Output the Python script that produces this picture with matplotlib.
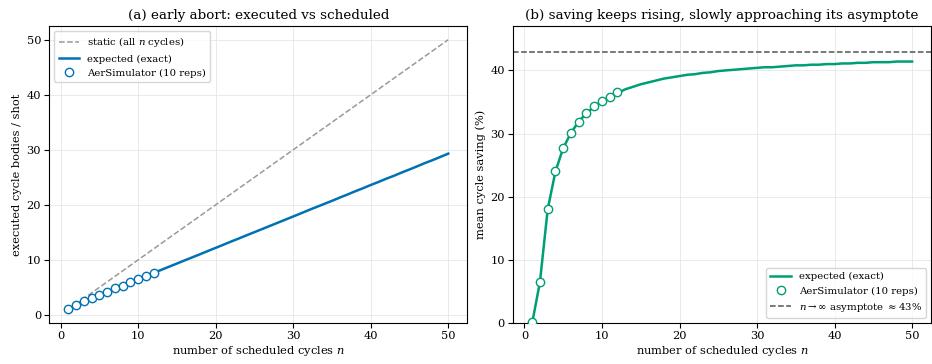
import matplotlib
matplotlib.use("Agg")
import matplotlib.pyplot as plt

plt.rcParams["font.family"] = "DejaVu Serif"
plt.rcParams["mathtext.fontset"] = "dejavuserif"

# scheduled cycles n = 1..50
n_all = list(range(1, 51))

# expected executed cycle bodies per shot (exact)
exec_expected = [1.00, 1.87, 2.46, 3.04, 3.62, 4.19, 4.77, 5.34, 5.91, 6.49,
                 7.06, 7.63, 8.19, 8.76, 9.33, 9.90, 10.47, 11.03, 11.61, 12.18,
                 12.75, 13.33, 13.89, 14.47, 15.03, 15.60, 16.17, 16.74, 17.31, 17.88,
                 18.45, 19.04, 19.60, 20.16, 20.72, 21.31, 21.87, 22.46, 23.01, 23.60,
                 24.15, 24.74, 25.28, 25.87, 26.42, 27.00, 27.59, 28.13, 28.71, 29.30]

# expected mean cycle saving (%)
saving_expected = [0.0, 6.5, 18.0, 24.0, 27.7, 30.1, 31.9, 33.2, 34.3, 35.1,
                   35.8, 36.4, 37.0, 37.4, 37.8, 38.1, 38.4, 38.7, 38.9, 39.1,
                   39.3, 39.4, 39.6, 39.7, 39.9, 40.0, 40.1, 40.2, 40.3, 40.4,
                   40.5, 40.5, 40.6, 40.7, 40.8, 40.8, 40.9, 40.9, 41.0, 41.0,
                   41.1, 41.1, 41.2, 41.2, 41.3, 41.3, 41.3, 41.4, 41.4, 41.4]

# AerSimulator runs (10 reps), n = 1..12
n_sim = list(range(1, 13))
exec_sim = [1.0, 1.85, 2.45, 3.05, 3.6, 4.2, 4.8, 5.3, 5.9, 6.5, 7.05, 7.6]
saving_sim = [0.2, 6.5, 18.0, 24.0, 27.7, 30.1, 31.9, 33.3, 34.3, 35.2, 35.8, 36.5]

asymptote = 42.9

BLUE = "#0072B2"
GREEN = "#009E73"

fig, (ax1, ax2) = plt.subplots(1, 2, figsize=(9.32, 3.64), dpi=100)

# (a) executed vs scheduled
ax1.plot(n_all, n_all, "--", color="#999999", lw=1.1, label="static (all $n$ cycles)", zorder=2)
ax1.plot(n_all, exec_expected, color=BLUE, lw=1.8, label="expected (exact)", zorder=3)
ax1.plot(n_sim, exec_sim, "o", ls="none", mfc="white", mec=BLUE, mew=1.0, ms=6,
         label="AerSimulator (10 reps)", zorder=4)
ax1.set_xlabel("number of scheduled cycles $n$", fontsize=8.2, labelpad=2)
ax1.set_ylabel("executed cycle bodies / shot", fontsize=8.2, labelpad=3)
ax1.set_title("(a) early abort: executed vs scheduled", fontsize=9.7, pad=5)
ax1.legend(loc="upper left", fontsize=7.3)
ax1.grid(True, color="#e6e6e6", lw=0.6)
ax1.set_xticks([0, 10, 20, 30, 40, 50])
ax1.set_yticks([0, 10, 20, 30, 40, 50])

# (b) saving
ax2.plot(n_all, saving_expected, color=GREEN, lw=1.8, label="expected (exact)", zorder=3)
ax2.plot(n_sim, saving_sim, "o", ls="none", mfc="white", mec=GREEN, mew=1.0, ms=6,
         label="AerSimulator (10 reps)", zorder=4)
ax2.axhline(asymptote, ls="--", color="#555555", lw=1.1,
            label=r"$n\to\infty$ asymptote $\approx$43%")
ax2.set_ylim(0, 47)
ax2.set_xlabel("number of scheduled cycles $n$", fontsize=8.2, labelpad=2)
ax2.set_ylabel("mean cycle saving (%)", fontsize=8.2, labelpad=3)
ax2.set_title("(b) saving keeps rising, slowly approaching its asymptote", fontsize=9.7, pad=5)
ax2.legend(loc="lower right", fontsize=7.3)
ax2.grid(True, color="#e6e6e6", lw=0.6)
ax2.set_xticks([0, 10, 20, 30, 40, 50])

for ax in (ax1, ax2):
    ax.tick_params(labelsize=8.2, pad=2.5)

plt.subplots_adjust(left=0.053, right=0.999, bottom=0.113, top=0.928, wspace=0.11)
plt.savefig("out.png", dpi=100)
